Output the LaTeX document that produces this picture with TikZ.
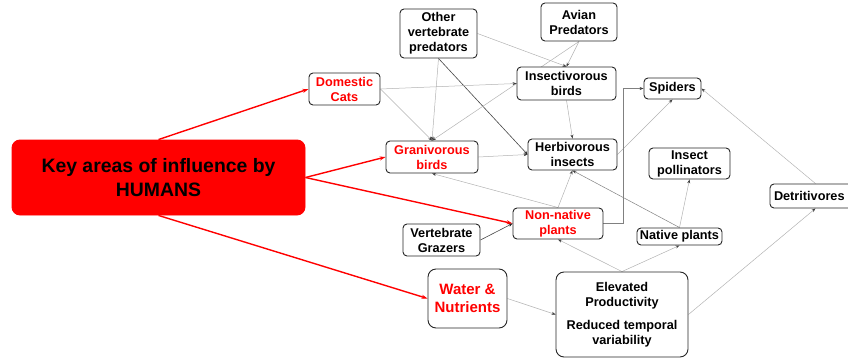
\documentclass[tikz,border=0pt]{standalone}
\usepackage{fontspec}
\setmainfont{Liberation Sans}
\usetikzlibrary{arrows.meta}
\pgfdeclarelayer{edgelayer}
\pgfsetlayers{edgelayer,main}
\definecolor{hred}{RGB}{255,0,0}
\tikzset{
  box/.style={draw=black!85, line width=0.9pt, rounded corners=4pt, fill=white, inner sep=0pt,
    align=center, font=\fontsize{12.7}{15}\selectfont\bfseries},
  bigbox/.style={box, rounded corners=8pt},
  redtxt/.style={text=hred},
  lite/.style={draw=black!30, line width=0.5pt, -{Stealth[length=4pt,width=3pt,color=black!75]}},
  mid/.style={draw=black!50, line width=0.5pt, -{Stealth[length=4pt,width=3pt,color=black!75]}},
  dark/.style={draw=black!72, line width=0.6pt, -{Stealth[length=4pt,width=3pt,color=black!85]}},
  redarrow/.style={draw=hred, line width=1.4pt, -{Stealth[length=6pt,width=4pt]}}
}
\begin{document}
\begin{tikzpicture}[x=1pt,y=-1pt]
\useasboundingbox (0,0) rectangle (848,359);
\clip (0,0) rectangle (848,359);

\node[bigbox, draw=hred, fill=hred, minimum width=293pt, minimum height=75pt,
  font=\fontsize{19.4}{24}\selectfont\bfseries] (key) at (158.5,177.5) {Key areas of influence by\\HUMANS};
\node[box, redtxt, minimum width=71pt, minimum height=32pt] (cats) at (344.5,89) {Domestic\\Cats};
\node[box, minimum width=77pt, minimum height=49pt] (other) at (438.5,33.5) {Other\\vertebrate\\predators};
\node[box, minimum width=76pt, minimum height=38pt] (avian) at (579,22) {Avian\\Predators};
\node[box, minimum width=99pt, minimum height=33pt] (insectiv) at (566.5,83.5) {Insectivorous\\birds};
\node[box, redtxt, minimum width=92pt, minimum height=32pt] (graniv) at (432,157) {Granivorous\\birds};
\node[box, minimum width=89pt, minimum height=31pt] (herbiv) at (572.5,154.5) {Herbivorous\\insects};
\node[box, minimum width=57pt, minimum height=21pt] (spiders) at (672.5,88.5) {Spiders};
\node[box, minimum width=81pt, minimum height=31pt] (pollin) at (689.5,163.5) {Insect\\pollinators};
\node[box, text width=83pt, inner xsep=4pt, align=left, minimum height=24pt] (detrit) at (815.5,196) {Detritivores};
\node[box, redtxt, minimum width=90pt, minimum height=31pt] (nonnative) at (558,223.5) {Non-native\\plants};
\node[box, minimum width=77pt, minimum height=32pt] (grazers) at (441.5,240) {Vertebrate\\Grazers};
\node[box, minimum width=85pt, minimum height=17pt] (native) at (679.5,236.5) {Native plants};
\node[bigbox, redtxt, minimum width=79pt, minimum height=59pt,
  font=\fontsize{15}{18}\selectfont\bfseries] (water) at (467.5,298.5) {Water \&\\Nutrients};
\node[bigbox, minimum width=132pt, minimum height=85pt] (elev) at (622,314.5)
  {Elevated\\Productivity\\[8pt]Reduced temporal\\variability};

\begin{pgfonlayer}{edgelayer}
\draw[redarrow] (key.north) -- (cats.west);
\draw[redarrow] (key.east) -- (graniv.west);
\draw[redarrow] (key.east) -- (nonnative.west);
\draw[redarrow] (key.south) -- (water.west);

\draw[lite] (other.south) -- (graniv.north);
\draw[dark] (other.south) -- (herbiv.west);
\draw[lite] (other.east) -- (insectiv.north);
\draw[lite] (avian.south) -- (insectiv.north);
\draw[lite] (avian.south) -- (graniv.north);
\draw[lite] (cats.east) -- (insectiv.west);
\draw[lite] (cats.east) -- (graniv.north);
\draw[lite] (insectiv.south) -- (herbiv.north);
\draw[lite] (graniv.east) -- (herbiv.west);
\draw[lite] (herbiv.east) -- (spiders.south);
\draw[mid] (nonnative.east) -- ++(20,0) |- (spiders.west);
\draw[lite] (detrit.north) -- (spiders.east);
\draw[mid] (native.north) -- (herbiv.south);
\draw[lite] (native.north) -- (pollin.south);
\draw[lite] (nonnative.north) -- (herbiv.south);
\draw[lite] (nonnative.north) -- (graniv.south);
\draw[dark] (grazers.east) -- (nonnative.west);
\draw[lite] (water.east) -- (elev.west);
\draw[lite] (elev.north) -- (nonnative.south);
\draw[lite] (elev.north) -- (native.south);
\draw[lite] (elev.east) -- (detrit.south);
\end{pgfonlayer}
\end{tikzpicture}
\end{document}
